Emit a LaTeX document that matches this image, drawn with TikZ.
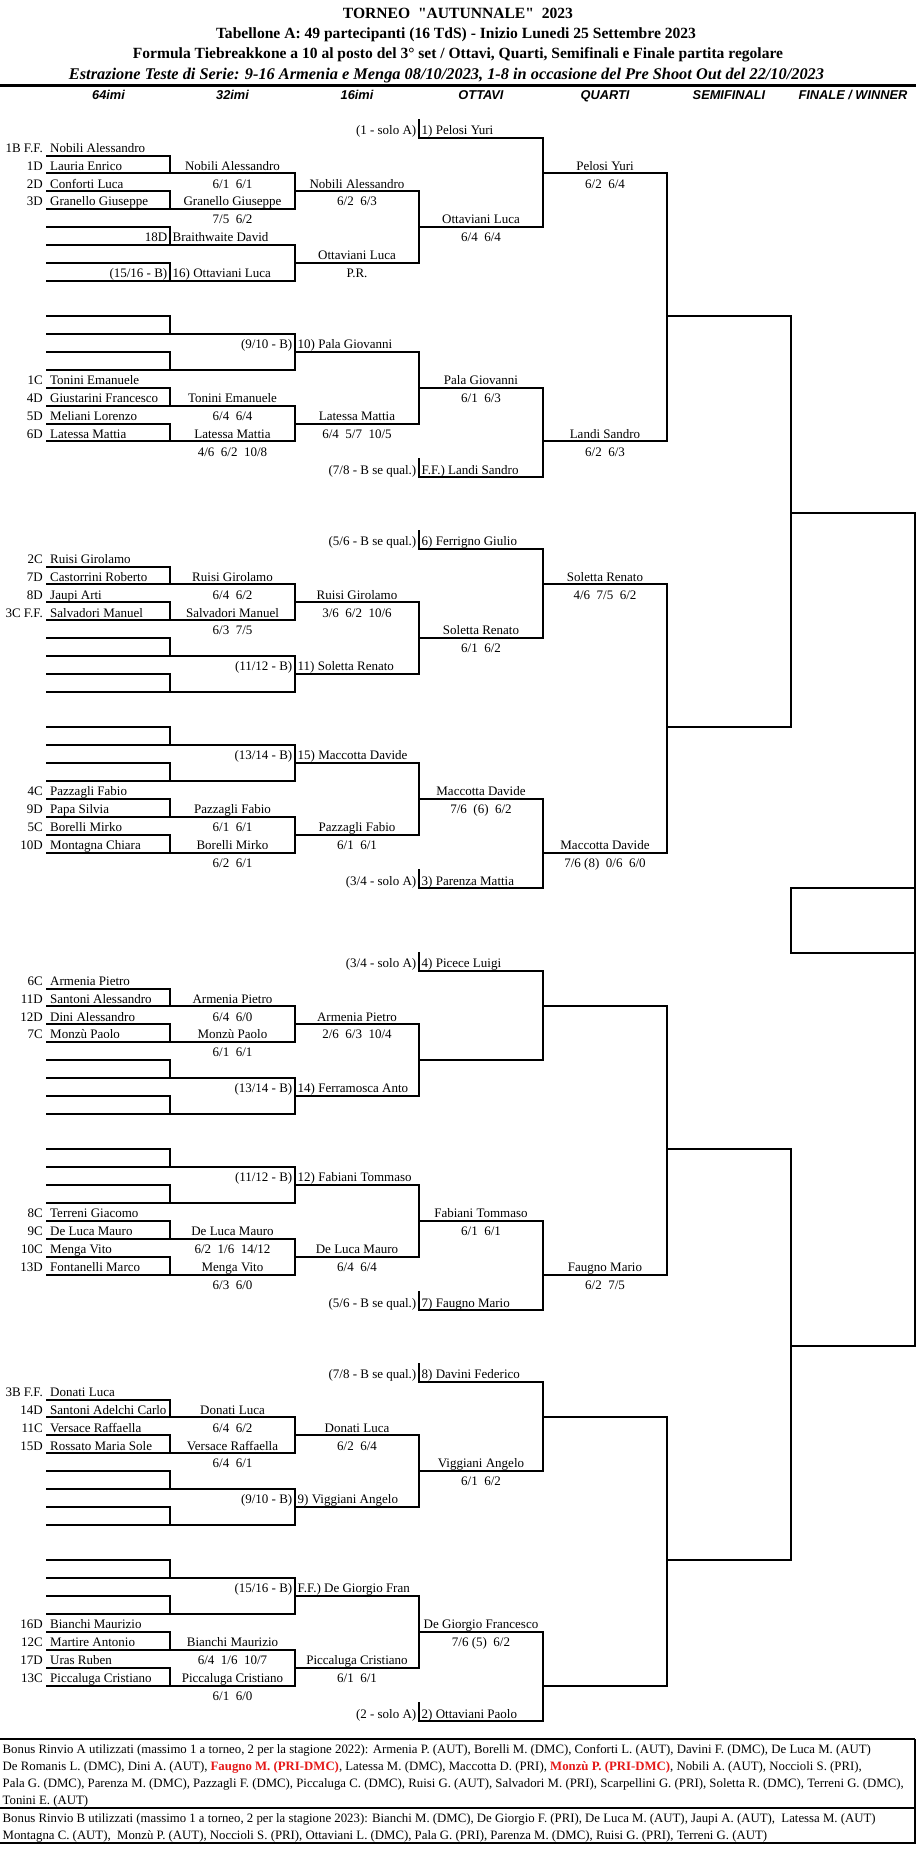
\documentclass[tikz,border=0pt]{standalone}
\usepackage{fontspec}
\setmainfont{Liberation Serif}[Ligatures=TeXOff]
\newfontfamily\hsans{Liberation Sans}
\usepackage{graphicx}
\definecolor{redtxt}{RGB}{228,24,24}
\newcount\bnodecnt
\newcommand\bsetrow[1]{\pgfmathsetmacro\yy{ifthenelse((#1)<44.5,137.7+17.87*(#1),970.7+17.87*((#1)-46))}}
\newcommand\bhl[3]{\bsetrow{#1}\draw[ln] (#2,\yy) -- (#3,\yy);}
\newcommand\bvl[3]{\bsetrow{#2}\let\yA\yy\bsetrow{#3}\draw[ln] (#1,\yA) -- (#1,\yy);}
\newcommand\btx[4]{\bsetrow{#1}\global\advance\bnodecnt by 1\relax\node[txt,anchor=#2] (n\the\bnodecnt) at (#3,\yy-3.2) {#4};}
\newcommand\bLb[3]{\btx{#1}{base east}{43}{#2}\btx{#1}{base west}{50}{#3}}
\newcommand\bCc[3]{\btx{#1}{base}{#2}{#3}}
\newcommand\bSd[4]{\btx{#1}{base east}{#2-2.5}{#3}\btx{#1}{base west}{#2+2.5}{#4}}
\newcommand\bblk[1]{%
 \bhl{#1}{47}{170}\bhl{#1+1}{47}{295}\bhl{#1+2}{47}{170}\bhl{#1+3}{47}{295}\bhl{#1+2}{295}{419}%
 \bvl{170}{#1}{#1+1}\bvl{170}{#1+2}{#1+3}\bvl{295}{#1+1}{#1+3}}
\newcommand\btop[1]{%
 \bblk{#1+1}\bblk{#1+5}%
 \bvl{419}{#1+3}{#1+7}\bhl{#1+5}{419}{543}%
 \bhl{#1}{419}{543}\bvl{419}{#1-1}{#1}%
 \bvl{543}{#1}{#1+5}\bhl{#1+2}{543}{667}}
\newcommand\bbot[1]{%
 \bblk{#1}\bblk{#1+4}%
 \bvl{419}{#1+2}{#1+6}\bhl{#1+4}{419}{543}%
 \bhl{#1+9}{419}{543}\bvl{419}{#1+8}{#1+9}%
 \bvl{543}{#1+4}{#1+9}\bhl{#1+7}{543}{667}}
\newcommand\bquar[1]{\bvl{667}{#1+2}{#1+17}\bhl{#1+10}{667}{791}}
\newcommand\bhalf[1]{\bvl{791}{#1+10}{#1+33}\bhl{#1+21}{791}{915}}
\begin{document}
\begin{tikzpicture}[x=1pt,y=-1pt,
  ln/.style={line width=2pt,line cap=rect},
  txt/.style={inner sep=0pt,font=\fontsize{13}{15}\selectfont},
  hdr/.style={inner sep=0pt,anchor=base,font=\hsans\bfseries\itshape\fontsize{12.8}{14}\selectfont},
  btxt/.style={inner sep=0pt,anchor=base west,font=\fontsize{12.8}{14}\selectfont}]
\fill[white] (0,0) rectangle (916,1861);
\useasboundingbox (0,0) rectangle (916,1861);
% header
\node[inner sep=0pt,anchor=base] (title) at (458,18.5) {\resizebox{230pt}{!}{\bfseries TORNEO~~"AUTUNNALE"~~2023}};
\node[inner sep=0pt,anchor=base] (sub1) at (456,38) {\resizebox{480pt}{!}{\bfseries Tabellone A: 49 partecipanti (16 TdS) - Inizio Lunedi 25 Settembre 2023}};
\node[inner sep=0pt,anchor=base] (sub2) at (458,58) {\resizebox{650pt}{!}{\bfseries Formula Tiebreakkone a 10 al posto del 3° set / Ottavi, Quarti, Semifinali e Finale partita regolare}};
\node[inner sep=0pt,anchor=base] (sub3) at (446.5,79) {\resizebox{755pt}{!}{\bfseries\itshape Estrazione Teste di Serie: 9-16 Armenia e Menga 08/10/2023, 1-8 in occasione del Pre Shoot Out del 22/10/2023}};
\draw[line width=3pt] (0,85.5) -- (916,85.5);
\node[hdr] (h1) at (108.5,99) {64imi};
\node[hdr] (h2) at (232.5,99) {32imi};
\node[hdr] (h3) at (357,99) {16imi};
\node[hdr] (h4) at (481,99) {OTTAVI};
\node[hdr] (h5) at (605,99) {QUARTI};
\node[hdr] (h6) at (729,99) {SEMIFINALI};
\node[hdr] (h7) at (853,99) {FINALE / WINNER};
% bracket lines
\btop{0}\bbot{10}\bquar{0}
\btop{23}\bbot{33}\bquar{23}
\bhalf{0}
\btop{46}\bbot{56}\bquar{46}
\btop{69}\bbot{79}\bquar{69}
\bhalf{46}
\bvl{915}{21}{42}\bvl{915}{45}{67}
\bsetrow{42}\let\yA\yy\bsetrow{45}\draw[ln] (791,\yA) rectangle (915,\yy);
% s1
\bSd{0}{419}{(1 - solo A)}{1) Pelosi Yuri}
\bLb{1}{1B F.F.}{Nobili Alessandro}
\bLb{2}{1D}{Lauria Enrico}
\bCc{2}{232.5}{Nobili Alessandro}
\bCc{2}{605}{Pelosi Yuri}
\bLb{3}{2D}{Conforti Luca}
\bCc{3}{232.5}{6/1~~6/1}
\bCc{3}{357}{Nobili Alessandro}
\bCc{3}{605}{6/2~~6/4}
\bLb{4}{3D}{Granello Giuseppe}
\bCc{4}{232.5}{Granello Giuseppe}
\bCc{4}{357}{6/2~~6/3}
\bCc{5}{232.5}{7/5~~6/2}
\bCc{5}{481}{Ottaviani Luca}
\bSd{6}{170}{18D}{Braithwaite David}
\bCc{6}{481}{6/4~~6/4}
\bCc{7}{357}{Ottaviani Luca}
\bSd{8}{170}{(15/16 - B)}{16) Ottaviani Luca}
\bCc{8}{357}{P.R.}
% s2
\bSd{12}{295}{(9/10 - B)}{10) Pala Giovanni}
\bLb{14}{1C}{Tonini Emanuele}
\bCc{14}{481}{Pala Giovanni}
\bLb{15}{4D}{Giustarini Francesco}
\bCc{15}{232.5}{Tonini Emanuele}
\bCc{15}{481}{6/1~~6/3}
\bLb{16}{5D}{Meliani Lorenzo}
\bCc{16}{232.5}{6/4~~6/4}
\bCc{16}{357}{Latessa Mattia}
\bLb{17}{6D}{Latessa Mattia}
\bCc{17}{232.5}{Latessa Mattia}
\bCc{17}{357}{6/4~~5/7~~10/5}
\bCc{17}{605}{Landi Sandro}
\bCc{18}{232.5}{4/6~~6/2~~10/8}
\bCc{18}{605}{6/2~~6/3}
\bSd{19}{419}{(7/8 - B se qual.)}{F.F.) Landi Sandro}
% s3
\bSd{23}{419}{(5/6 - B se qual.)}{6) Ferrigno Giulio}
\bLb{24}{2C}{Ruisi Girolamo}
\bLb{25}{7D}{Castorrini Roberto}
\bCc{25}{232.5}{Ruisi Girolamo}
\bCc{25}{605}{Soletta Renato}
\bLb{26}{8D}{Jaupi Arti}
\bCc{26}{232.5}{6/4~~6/2}
\bCc{26}{357}{Ruisi Girolamo}
\bCc{26}{605}{4/6~~7/5~~6/2}
\bLb{27}{3C F.F.}{Salvadori Manuel}
\bCc{27}{232.5}{Salvadori Manuel}
\bCc{27}{357}{3/6~~6/2~~10/6}
\bCc{28}{232.5}{6/3~~7/5}
\bCc{28}{481}{Soletta Renato}
\bCc{29}{481}{6/1~~6/2}
\bSd{30}{295}{(11/12 - B)}{11) Soletta Renato}
% s4
\bSd{35}{295}{(13/14 - B)}{15) Maccotta Davide}
\bLb{37}{4C}{Pazzagli Fabio}
\bCc{37}{481}{Maccotta Davide}
\bLb{38}{9D}{Papa Silvia}
\bCc{38}{232.5}{Pazzagli Fabio}
\bCc{38}{481}{7/6~~(6)~~6/2}
\bLb{39}{5C}{Borelli Mirko}
\bCc{39}{232.5}{6/1~~6/1}
\bCc{39}{357}{Pazzagli Fabio}
\bLb{40}{10D}{Montagna Chiara}
\bCc{40}{232.5}{Borelli Mirko}
\bCc{40}{357}{6/1~~6/1}
\bCc{40}{605}{Maccotta Davide}
\bCc{41}{232.5}{6/2~~6/1}
\bCc{41}{605}{7/6 (8)~~0/6~~6/0}
\bSd{42}{419}{(3/4 - solo A)}{3) Parenza Mattia}
% s5
\bSd{46}{419}{(3/4 - solo A)}{4) Picece Luigi}
\bLb{47}{6C}{Armenia Pietro}
\bLb{48}{11D}{Santoni Alessandro}
\bCc{48}{232.5}{Armenia Pietro}
\bLb{49}{12D}{Dini Alessandro}
\bCc{49}{232.5}{6/4~~6/0}
\bCc{49}{357}{Armenia Pietro}
\bLb{50}{7C}{Monzù Paolo}
\bCc{50}{232.5}{Monzù Paolo}
\bCc{50}{357}{2/6~~6/3~~10/4}
\bCc{51}{232.5}{6/1~~6/1}
\bSd{53}{295}{(13/14 - B)}{14) Ferramosca Anto}
% s6
\bSd{58}{295}{(11/12 - B)}{12) Fabiani Tommaso}
\bLb{60}{8C}{Terreni Giacomo}
\bCc{60}{481}{Fabiani Tommaso}
\bLb{61}{9C}{De Luca Mauro}
\bCc{61}{232.5}{De Luca Mauro}
\bCc{61}{481}{6/1~~6/1}
\bLb{62}{10C}{Menga Vito}
\bCc{62}{232.5}{6/2~~1/6~~14/12}
\bCc{62}{357}{De Luca Mauro}
\bLb{63}{13D}{Fontanelli Marco}
\bCc{63}{232.5}{Menga Vito}
\bCc{63}{357}{6/4~~6/4}
\bCc{63}{605}{Faugno Mario}
\bCc{64}{232.5}{6/3~~6/0}
\bCc{64}{605}{6/2~~7/5}
\bSd{65}{419}{(5/6 - B se qual.)}{7) Faugno Mario}
% s7
\bSd{69}{419}{(7/8 - B se qual.)}{8) Davini Federico}
\bLb{70}{3B F.F.}{Donati Luca}
\bLb{71}{14D}{Santoni Adelchi Carlo}
\bCc{71}{232.5}{Donati Luca}
\bLb{72}{11C}{Versace Raffaella}
\bCc{72}{232.5}{6/4~~6/2}
\bCc{72}{357}{Donati Luca}
\bLb{73}{15D}{Rossato Maria Sole}
\bCc{73}{232.5}{Versace Raffaella}
\bCc{73}{357}{6/2~~6/4}
\bCc{74}{232.5}{6/4~~6/1}
\bCc{74}{481}{Viggiani Angelo}
\bCc{75}{481}{6/1~~6/2}
\bSd{76}{295}{(9/10 - B)}{9) Viggiani Angelo}
% s8
\bSd{81}{295}{(15/16 - B)}{F.F.) De Giorgio Fran}
\bLb{83}{16D}{Bianchi Maurizio}
\bCc{83}{481}{De Giorgio Francesco}
\bLb{84}{12C}{Martire Antonio}
\bCc{84}{232.5}{Bianchi Maurizio}
\bCc{84}{481}{7/6 (5)~~6/2}
\bLb{85}{17D}{Uras Ruben}
\bCc{85}{232.5}{6/4~~1/6~~10/7}
\bCc{85}{357}{Piccaluga Cristiano}
\bLb{86}{13C}{Piccaluga Cristiano}
\bCc{86}{232.5}{Piccaluga Cristiano}
\bCc{86}{357}{6/1~~6/1}
\bCc{87}{232.5}{6/1~~6/0}
\bSd{88}{419}{(2 - solo A)}{2) Ottaviani Paolo}
% bottom box
\draw[line width=2.2pt] (0,1739.3) -- (915,1739.3);
\draw[line width=2pt] (0,1807.7) -- (915,1807.7);
\draw[line width=2.2pt] (0,1842.7) -- (916,1842.7);
\draw[line width=2pt] (915,1739.3) -- (915,1842.7);
\node[btxt] (b1) at (2.5,1753) {Bonus Rinvio A utilizzati (massimo 1 a torneo, 2 per la stagione 2022): Armenia P. (AUT), Borelli M. (DMC), Conforti L. (AUT), Davini F. (DMC), De Luca M. (AUT)};
\node[btxt] (b2) at (2.5,1770) {De Romanis L. (DMC), Dini A. (AUT), \textcolor{redtxt}{\bfseries Faugno M. (PRI-DMC)}, Latessa M. (DMC), Maccotta D. (PRI), \textcolor{redtxt}{\bfseries Monzù P. (PRI-DMC)}, Nobili A. (AUT), Noccioli S. (PRI),};
\node[btxt] (b3) at (2.5,1787) {Pala G. (DMC), Parenza M. (DMC), Pazzagli F. (DMC), Piccaluga C. (DMC), Ruisi G. (AUT), Salvadori M. (PRI), Scarpellini G. (PRI), Soletta R. (DMC), Terreni G. (DMC),};
\node[btxt] (b4) at (2.5,1804) {Tonini E. (AUT)};
\node[btxt] (b5) at (2.5,1822.5) {Bonus Rinvio B utilizzati (massimo 1 a torneo, 2 per la stagione 2023): Bianchi M. (DMC), De Giorgio F. (PRI), De Luca M. (AUT), Jaupi A. (AUT),~~Latessa M. (AUT)};
\node[btxt] (b6) at (2.5,1839.5) {Montagna C. (AUT),~~Monzù P. (AUT), Noccioli S. (PRI), Ottaviani L. (DMC), Pala G. (PRI), Parenza M. (DMC), Ruisi G. (PRI), Terreni G. (AUT)};
\end{tikzpicture}
\end{document}
